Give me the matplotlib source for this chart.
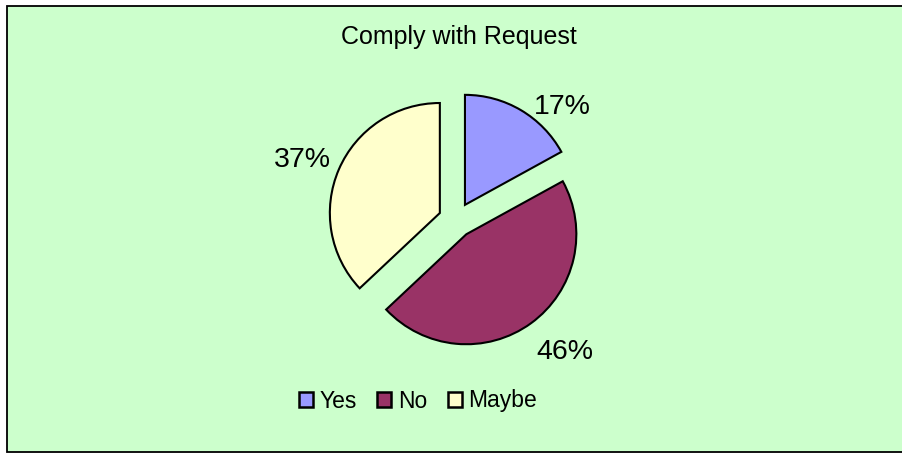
import numpy as np
import matplotlib.pyplot as plt
from matplotlib.patches import Rectangle

plt.rcParams['font.family'] = ['Liberation Sans', 'DejaVu Sans']

title = "Comply with Request"
categories = ["Yes", "No", "Maybe"]
shares = [17, 46, 37]
colors = ["#9999FF", "#993366", "#FFFFCC"]

# label placement: (angle nudge in degrees, distance in radii) per slice
label_layout = [(-12.8, 1.41), (3.6, 1.555), (2.1, 1.5)]

W, H = 902, 453
fig = plt.figure(figsize=(W / 100, H / 100), dpi=100)
fig.patch.set_facecolor("white")

# chart area with border
fig.patches.append(Rectangle((7.5 / W, 1.0 / H), (W + 5) / W, 446 / H,
                             transform=fig.transFigure, facecolor="#CCFFCC",
                             edgecolor="black", linewidth=1.3, zorder=-5))

# axes spanning the figure, scaled so the pie radius is 110 px
R = 110.0
cx, cy = 456.0, H - 220.0
ax = fig.add_axes([0, 0, 1, 1], zorder=2)
ax.set_facecolor("none")
ax.axis("off")

wedges, _ = ax.pie(shares, colors=colors, startangle=90, counterclock=False,
                   explode=[0.16] * len(shares), radius=1.0, center=(0, 0),
                   wedgeprops=dict(edgecolor="black", linewidth=1.5))
ax.set_aspect("auto")
ax.set_xlim(-cx / R, (W - cx) / R)
ax.set_ylim(-cy / R, (H - cy) / R)

for w, val, (nudge, dist) in zip(wedges, shares, label_layout):
    mid = np.deg2rad((w.theta1 + w.theta2) / 2 + nudge)
    ax.text(dist * np.cos(mid), dist * np.sin(mid), f"{val}%",
            ha="center", va="center", fontsize=20.5)

fig.text(459 / W, 1 - 37 / H, title, ha="center", va="center", fontsize=18)

leg = fig.legend(wedges, categories, loc="center", ncol=3, frameon=False,
                 bbox_to_anchor=(418 / W, 1 - 401 / H), fontsize=16.5,
                 handlelength=0.6, handleheight=0.6, handletextpad=0.3,
                 columnspacing=0.9, borderpad=0)
for h in leg.legend_handles:
    h.set_linewidth(1.8)

fig.savefig("out.png", dpi=100)
